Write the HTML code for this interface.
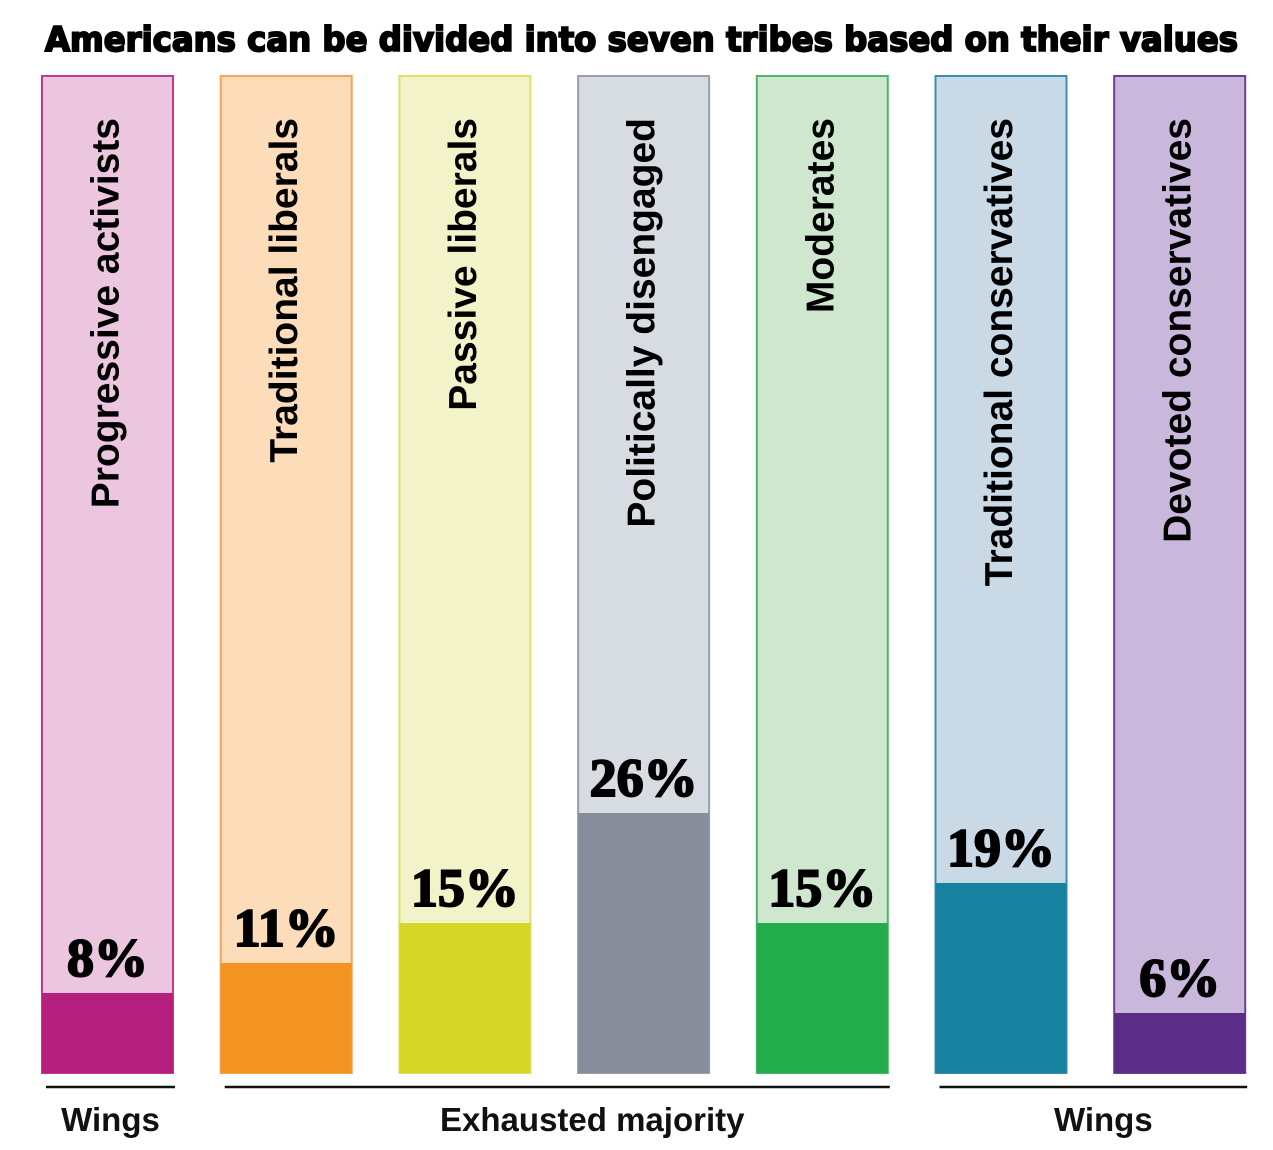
<!DOCTYPE html>
<html><head><meta charset="utf-8"><style>html,body{margin:0;padding:0;background:#fff}svg{display:block}</style></head>
<body>
<svg id="chart" width="1273" height="1150" xmlns="http://www.w3.org/2000/svg">
<text x="45" y="51" font-family="'DejaVu Sans','Liberation Sans',sans-serif" font-weight="bold" font-size="34" textLength="1193" lengthAdjust="spacingAndGlyphs" fill="#000" stroke="#000" stroke-width="2">Americans can be divided into seven tribes based on their values</text>
<g id="bars"></g>
<g id="groups"></g>
</svg>
<script>
const categories = ["Progressive activists","Traditional liberals","Passive liberals","Politically disengaged","Moderates","Traditional conservatives","Devoted conservatives"];
const values = [8, 11, 15, 26, 15, 19, 6];
const labels = ["8%","11%","15%","26%","15%","19%","6%"];
const lightColors = ["#ecc6df","#fcdcb9","#f2f3c9","#d7dbe2","#cfe6cf","#c9d9e5","#c9b8dc"];
const darkColors = ["#b61f7d","#f39422","#d6d626","#878d9a","#22ac4b","#17829f","#5c2d86"];
const borderColors = ["#c0398e","#f3a457","#dde06a","#9a9fa8","#4bb56a","#3a8fb0","#6b3f92"];
const groupNames = ["Wings","Exhausted majority","Wings"];

const NS = "http://www.w3.org/2000/svg";
const barsG = document.getElementById("bars");
const barX0 = 42, barStep = 178.7, barW = 131, barTop = 76, baseY = 1073, pxPerPct = 10;
function xPos(i){ return barX0 + i*barStep; }
function yPos(v){ return baseY - v*pxPerPct; }
function mk(tag, attrs){ const e=document.createElementNS(NS,tag); for(const k in attrs) e.setAttribute(k,attrs[k]); return e; }

categories.forEach((c,i)=>{
  const x = xPos(i);
  const bg = mk("rect",{x:x,y:barTop,width:barW,height:baseY-barTop,fill:lightColors[i],stroke:borderColors[i],"stroke-width":2});
  
  
  barsG.appendChild(bg);
  const fill = mk("rect",{x:x,y:yPos(values[i]),width:barW,height:baseY-yPos(values[i]),fill:darkColors[i]});
  
  
  barsG.appendChild(fill);
  const cx = x + barW/2;
  const t = mk("text",{x:0,y:0,transform:`translate(${cx+11},118) rotate(-90)`,"text-anchor":"end","font-family":"'Liberation Sans',sans-serif","font-weight":"bold","font-size":"39",fill:"#000"});
  t.textContent = c;
  
  
  barsG.appendChild(t);
  const p = mk("text",{x:cx,y:yPos(values[i])-17,"text-anchor":"middle","font-family":"'Liberation Serif',serif","font-weight":"bold","font-size":"54",fill:"#000",stroke:"#000","stroke-width":"2"});
  p.textContent = labels[i];
  
  
  barsG.appendChild(p);
});

const groupsG = document.getElementById("groups");
const groupStart = [0,1,5], groupEnd = [0,4,6];
const labelShift = [0, 35, 10];
groupNames.forEach((g,j)=>{
  const x1 = xPos(groupStart[j]) + 4, x2 = xPos(groupEnd[j]) + barW + 2;
  const l = mk("line",{x1:x1,x2:x2,y1:1087,y2:1087,stroke:"#111","stroke-width":2.5});
  
  
  groupsG.appendChild(l);
  const t = mk("text",{x:(x1+x2)/2+labelShift[j],y:1131,"text-anchor":"middle","font-family":"'Liberation Sans',sans-serif","font-weight":"bold","font-size":"33",fill:"#111"});
  t.textContent = g;
  
  
  groupsG.appendChild(t);
});
</script>
</body></html>
